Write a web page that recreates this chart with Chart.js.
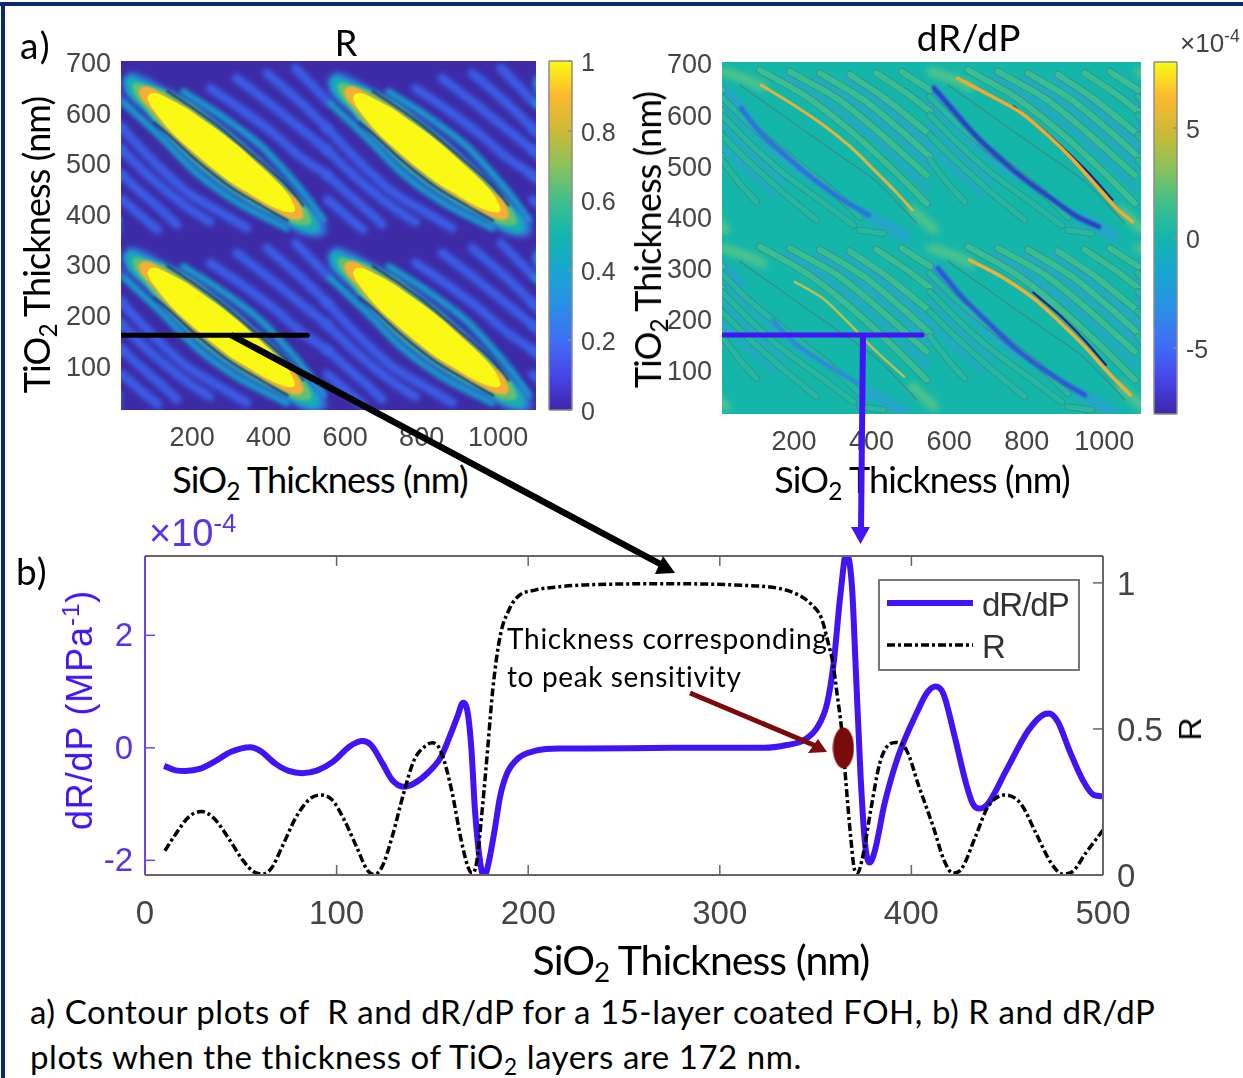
<!DOCTYPE html>
<html>
<head>
<meta charset="utf-8">
<title>R and dR/dP</title>
<script src="https://cdn.jsdelivr.net/npm/chart.js@4/dist/chart.umd.min.js"></script>
<style>
  html, body { margin: 0; padding: 0; background: #fff; }
  body { position: relative; width: 1243px; height: 1078px; overflow: hidden; }
  canvas.c { position: absolute; }
  .t { position: absolute; font-family: Lato, sans-serif; color: #000; white-space: nowrap; line-height: 1; }
  .mid { transform: translate(-50%, -50%); }
  .rot { transform: translate(-50%, -50%) rotate(-90deg); }
  .ar { font-family: "Liberation Sans", sans-serif; }
  sub { font-size: 68%; line-height: 0; vertical-align: -0.28em; }
  sup { font-size: 68%; line-height: 0; vertical-align: 0.55em; }
  .frame { position: absolute; background: #0b2a6b; }
  #legendBox { position: absolute; left: 878px; top: 579px; width: 198px; height: 88px; border: 2px solid #777; background: #fff; }
  svg { position: absolute; left: 0; top: 0; }
</style>
</head>
<body>
<div class="frame" style="left:0;top:2px;width:1243px;height:4px"></div>
<div class="frame" style="left:1px;top:2px;width:4px;height:1076px"></div>

<canvas class="c" id="mapR" style="left:40px;top:26px" width="520" height="429"></canvas>
<canvas class="c" id="barR" style="left:540px;top:36px" width="90" height="404"></canvas>
<canvas class="c" id="mapD" style="left:640px;top:27px" width="525" height="432"></canvas>
<canvas class="c" id="barD" style="left:1145px;top:37px" width="90" height="407"></canvas>
<div id="legendBox"></div>
<canvas class="c" id="lineChart" style="left:60px;top:516px" width="1120" height="424"></canvas>

<div class="t fit" data-w="32" style="left:20px;top:26px;font-size:37px">a)</div>
<div class="t mid" style="left:346px;top:42px;font-size:36px">R</div>
<div class="t mid fit" data-w="104" style="left:969px;top:36px;font-size:37px">dR/dP</div>
<div class="t ar" style="left:1180px;top:30px;font-size:26px;color:#444">×10<sup>-4</sup></div>
<div class="t rot fit" data-w="296" style="left:36px;top:245px;font-size:36px">TiO<sub>2</sub> Thickness (nm)</div>
<div class="t rot fit" data-w="296" style="left:647px;top:240px;font-size:36px">TiO<sub>2</sub> Thickness (nm)</div>
<div class="t mid fit" data-w="295" style="left:320px;top:479px;font-size:36px">SiO<sub>2</sub> Thickness (nm)</div>
<div class="t mid fit" data-w="295" style="left:922px;top:479px;font-size:36px">SiO<sub>2</sub> Thickness (nm)</div>

<div class="t fit" data-w="32" style="left:16px;top:552px;font-size:37px">b)</div>
<div class="t ar" style="left:149px;top:514px;font-size:38px;color:#5a33e8">×10<sup>-4</sup></div>
<div class="t ar rot fit" data-w="240" style="left:80px;top:710px;font-size:36px;color:#4312f5">dR/dP (MPa<sup>-1</sup>)</div>
<div class="t ar rot" style="left:1190px;top:729px;font-size:32px">R</div>
<div class="t ar fit" data-w="87" style="left:982px;top:588px;font-size:33px;color:#333">dR/dP</div>
<div class="t ar" style="left:982px;top:630px;font-size:33px;color:#333">R</div>
<div class="t fit" data-w="321" style="left:507px;top:624px;font-size:28px">Thickness corresponding</div>
<div class="t fit" data-w="235" style="left:507px;top:662px;font-size:28px">to peak sensitivity</div>
<div class="t mid fit" data-w="337" style="left:701px;top:959px;font-size:41px">SiO<sub>2</sub> Thickness (nm)</div>
<div class="t fit" data-w="1125" style="left:30px;top:995px;font-size:33px">a) Contour plots of&nbsp; R and dR/dP for a 15-layer coated FOH, b) R and dR/dP</div>
<div class="t fit" data-w="772" style="left:30px;top:1040px;font-size:33px">plots when the thickness of TiO<sub>2</sub> layers are 172 nm.</div>

<svg width="1243" height="1078">
  <line x1="887" y1="603" x2="973" y2="603" stroke="#4312f5" stroke-width="6"/>
  <line x1="887" y1="645" x2="973" y2="645" stroke="#000" stroke-width="3.5" stroke-dasharray="8 3 3 3"/>
  <line x1="231" y1="335" x2="664" y2="566" stroke="#000" stroke-width="6.5"/>
  <polygon points="675,573 655,574 663,556" fill="#000"/>
  <line x1="863" y1="335" x2="861" y2="530" stroke="#4312f5" stroke-width="6"/>
  <polygon points="851,527 870,527 860.5,544" fill="#4312f5"/>
  <line x1="690" y1="693" x2="816" y2="746" stroke="#7b0a0a" stroke-width="5"/>
  <polygon points="827,752 808,753 818,739" fill="#7b0a0a"/>
</svg>

<script>
// axis ranges
const mapRangeR = { xMin: 14, xMax: 1099, yMin: 13, yMax: 704 };
const mapRangeD = { xMin: 14, xMax: 1095, yMin: 14, yMax: 704 };
const mapXTicks = [200, 400, 600, 800, 1000];
const mapYTicks = [100, 200, 300, 400, 500, 600, 700];
const barRTicks = [0, 0.2, 0.4, 0.6, 0.8, 1];
const barDTicks = [-5, 0, 5];
const lineXTicks = [0, 100, 200, 300, 400, 500];
const lineYTicks = [-2, 0, 2];
const lineRTicks = [0, 0.5, 1];

const parulaStops = [0, 0.1, 0.2, 0.3, 0.4, 0.5, 0.6, 0.7, 0.8, 0.9, 1];
const parulaColors = ['#3e26a8', '#4746eb', '#3e6ff5', '#2a8fe6', '#17a6cf', '#12b5ae', '#3fc08a', '#8cc25a', '#cdba38', '#fcb92e', '#f9fb15'];

// repeat of the lobe pattern across both maps (nm)
const tileX = [-537, 0, 537, 1074];
const tileY = [0, -346];

// R map: contours of one lobe, [SiO2, TiO2] in nm
const lobeHalo = [[16,666],[38,681],[77,672],[142,645],[203,619],[260,586],[312,555],[360,523],[412,487],[460,450],[500,418],[530,399],[552,369],[534,356],[482,363],[421,393],[364,415],[303,443],[255,469],[212,495],[164,530],[120,565],[81,601],[45,625],[24,640]];
const lobeTeal = [[24,663],[38,673],[68,664],[142,642],[203,616],[260,583],[312,552],[360,520],[412,484],[460,447],[495,418],[521,396],[532,376],[521,363],[482,370],[421,396],[364,418],[303,446],[255,472],[212,498],[164,533],[120,568],[81,604],[50,625],[33,640]];
const lobeGreen = [[42,653],[51,661],[81,656],[142,640],[203,614],[260,581],[312,550],[360,518],[412,482],[460,445],[495,416],[513,386],[504,379],[469,381],[421,399],[364,421],[303,449],[255,475],[212,501],[164,536],[120,571],[81,607],[51,635]];
const lobeOrange = [[59,643],[68,652],[90,652],[142,630],[194,608],[247,578],[299,549],[351,516],[404,480],[447,447],[478,425],[491,399],[482,390],[456,392],[412,409],[360,432],[308,457],[264,482],[221,508],[177,537],[133,570],[94,606],[68,627]];
const lobeYellow = [[83,630],[90,639],[107,640],[142,628],[186,610],[229,587],[273,564],[316,538],[360,508],[404,478],[438,452],[460,429],[469,409],[460,404],[430,409],[386,425],[343,445],[299,465],[255,491],[212,518],[177,541],[142,567],[112,594],[90,617]];
const flankUpper = [[135,644],[186,619],[273,572],[360,516],[447,458],[490,418]];
const flankLower = [[100,582],[142,556],[212,507],[299,455],[386,416],[450,388]];
const stripesTeal = [
  [[177,643],[273,597],[377,538],[447,482],[499,435],[543,389]],
  [[24,620],[125,548],[212,482],[316,425],[447,373]]
];
const stripesBlue = [
  [[247,650],[325,610],[412,561],[482,515],[553,478]],
  [[316,670],[412,614],[482,571],[553,528]],
  [[395,680],[482,623],[553,571]],
  [[470,690],[553,625]],
  [[16,571],[99,505],[186,445],[273,405],[343,373]],
  [[16,528],[99,468],[186,415],[247,385]],
  [[16,478],[72,440],[125,405],[160,380]],
  [[16,430],[70,395],[110,370]]
];
const scanLineR = [[19,161],[501,161]];

// dR/dP map: arcs of each lobe
const arcOrange = [
  { pts: [[115,659],[192,623],[274,581],[345,538],[407,492],[458,453],[505,414]], color: '#e0b33c', w: 3 },
  { pts: [[622,672],[704,639],[786,604],[858,558],[920,512],[981,460],[1032,417],[1073,391]], color: '#f4a92e', w: 3.5 },
  { pts: [[202,273],[274,241],[345,189],[407,140],[484,87]], color: '#b9c04e', w: 2.5 },
  { pts: [[653,316],[735,283],[817,241],[889,192],[950,146],[1012,94],[1068,51]], color: '#eeb034', w: 3.5 }
];
const arcBlue = [
  { pts: [[64,613],[110,568],[181,519],[253,473],[325,434],[392,404]], color: '#2f6fe0', w: 5 },
  { pts: [[561,653],[602,617],[663,564],[725,519],[797,473],[868,434],[930,401],[986,381]], color: '#2c3fc4', w: 5 },
  { pts: [[146,198],[202,153],[279,113],[366,74]], color: '#2f86df', w: 4 },
  { pts: [[571,300],[632,244],[694,198],[766,146],[838,104],[899,74],[950,51]], color: '#2f55d8', w: 5 }
];
const arcDark = [
  [[766,617],[838,574],[899,532],[961,486],[1022,434]],
  [[817,252],[889,205],[950,158],[1005,110]]
];
const tipGreen = [
  [[17,685],[69,672],[120,655]],
  [[505,414],[561,375]]
];
const tipBlue = [
  [[12,650],[63,613]],
  [[392,404],[489,362]]
];
const bandsBlue = [
  [[181,675],[301,616],[413,551],[542,456]],
  [[258,670],[370,616],[465,561],[551,499]],
  [[336,672],[430,620],[551,538]],
  [[13,623],[86,571],[164,518],[241,472]],
  [[13,580],[86,528],[172,469]],
  [[13,538],[86,486],[146,446]]
];
const loopsUpper = [
  [[112,688],[232,636],[353,564],[456,492],[542,427]],
  [[189,685],[310,633],[422,564],[542,482]],
  [[267,682],[379,630],[473,571],[551,518]],
  [[344,679],[439,630],[551,561]],
  [[413,682],[490,643],[551,607]],
  [[478,685],[551,649]]
];
const loopsLower = [
  [[13,636],[78,587],[155,538],[232,492],[301,450],[370,400]],
  [[13,600],[86,544],[172,486],[267,433],[353,384]],
  [[13,561],[78,512],[164,453],[258,394]],
  [[13,512],[60,466],[103,430]],
  [[370,374],[430,368]]
];
const thinMiddle = [[60,659],[181,594],[310,525],[413,469],[516,388]];
const scanLineD = [[15,169],[530,169]];

// line plot at TiO2 = 172 nm
const dRdPx = [10,16,21,29,36,45,55,60,68,75,82,90,98,107,113.5,118,124,129,135,140.5,148,154.5,159,163,166,168.5,170.4,172.2,175,177,179.3,182.5,185.3,189,194.6,204,216,230,276,323,335,344,351,356,359.4,363,366,369,371,373.5,375.8,378.2,381,386,393,402.6,408.4,412.6,416.7,422.6,428.5,432,435.4,440,449.5,461,469.5,471.8,476.5,482.4,489.4,495.3,500];
const dRdPy = [-0.32,-0.40,-0.41,-0.37,-0.25,-0.07,0.01,-0.05,-0.28,-0.41,-0.45,-0.40,-0.25,0.03,0.12,0.05,-0.28,-0.57,-0.69,-0.63,-0.43,-0.16,0.2,0.55,0.80,0.61,-0.04,-1.1,-2.05,-2.3,-2.05,-1.46,-0.87,-0.45,-0.19,-0.05,-0.01,-0.01,0,0,0.05,0.14,0.37,0.79,1.5,2.74,3.45,2.86,1.38,-0.51,-1.7,-2.04,-1.82,-0.99,-0.16,0.61,0.99,1.09,0.96,0.2,-0.63,-0.99,-1.08,-0.99,-0.40,0.31,0.60,0.61,0.46,-0.04,-0.57,-0.84,-0.86];
const reflX = [10.4,15.7,23,29.6,36,43.6,51,56.7,61.3,66,71.6,79,86.5,92,97.7,104,110.7,116,119.7,123.8,129,135,140.5,146,150,154.5,160,165,168.5,170.7,173,176,178.8,181.5,185.3,190,194.6,204,216.6,229.6,276,311,330,341,348,353,356.6,359,361.4,363.6,366,368.3,370,371.8,374.6,378.8,383.5,388,392,397.4,404,411.4,417,421.7,426.4,433.4,440,448.6,457,465,473,479,484,491,500];
const reflY = [0.083,0.137,0.20,0.217,0.194,0.126,0.051,0.011,0.003,0.023,0.097,0.2,0.263,0.274,0.257,0.188,0.092,0.017,0.002,0.029,0.131,0.28,0.394,0.44,0.453,0.422,0.291,0.12,0.029,0.006,0.04,0.223,0.428,0.634,0.816,0.908,0.953,0.976,0.987,0.993,0.997,0.992,0.982,0.959,0.925,0.88,0.794,0.726,0.61,0.497,0.303,0.131,0.028,0.006,0.063,0.223,0.383,0.445,0.454,0.428,0.302,0.165,0.051,0.006,0.023,0.131,0.234,0.274,0.245,0.143,0.04,0.003,0.011,0.075,0.154];
const peakX = [364.5];
const peakY = [0];

const tickFont = 'Liberation Sans';

function toXY(list, dx, dy) {
  return list.map(p => ({ x: p[0] + (dx || 0), y: p[1] + (dy || 0) }));
}

function addShape(sets, list, color, dx, dy, blur) {
  sets.push({ data: toXY(list, dx, dy), showLine: true, fill: 'shape', backgroundColor: color, borderWidth: 0, borderColor: color,
    pointRadius: 0, tension: 0.3, clip: 0, order: -sets.length, blur });
}

function addLine(sets, list, color, width, dx, dy, blur) {
  sets.push({ data: toXY(list, dx, dy), showLine: true, fill: false, borderColor: color, borderWidth: width, borderCapStyle: 'round',
    pointRadius: 0, tension: 0.3, clip: 0, order: -sets.length, blur });
}

function eachTile(fn) {
  tileY.forEach(dy => tileX.forEach(dx => fn(dx, dy)));
}

function fixedTicks(vals) {
  return axis => { axis.ticks = vals.map(value => ({ value })); };
}

// fixed axis width, labels pushed down a little like the figure's
function fitY(width, nudge) {
  return s => {
    s.width = width;
    if (s.nudged) return;
    s.nudged = true;
    const drawLabels = s.drawLabels;
    s.drawLabels = area => {
      s.ctx.save();
      s.ctx.translate(0, nudge);
      drawLabels.call(s, area);
      s.ctx.restore();
    };
  };
}

const plainLabel = v => String(v);

// plot background, soft contour edges, inward ticks with box
const plotDeco = {
  id: 'plotDeco',
  beforeDatasetsDraw(chart, args, opts) {
    if (!opts.bg) return;
    const a = chart.chartArea;
    chart.ctx.fillStyle = opts.bg;
    chart.ctx.fillRect(a.left, a.top, a.width, a.height);
  },
  beforeDatasetDraw(chart, args) {
    const b = chart.data.datasets[args.index].blur;
    if (!b) return;
    chart.ctx.save();
    chart.ctx.filter = 'blur(' + b + 'px)';
  },
  afterDatasetDraw(chart, args) {
    if (chart.data.datasets[args.index].blur) chart.ctx.restore();
  },
  afterDraw(chart, args, opts) {
    if (!opts.len) return;
    const ctx = chart.ctx;
    const a = chart.chartArea;
    const seg = (x1, y1, x2, y2, c, w) => {
      ctx.beginPath();
      ctx.moveTo(x1, y1);
      ctx.lineTo(x2, y2);
      ctx.strokeStyle = c;
      ctx.lineWidth = w;
      ctx.stroke();
    };
    ctx.save();
    Object.values(chart.scales).forEach(s => {
      if (s.options.display === false || s.type !== 'linear') return;
      s.ticks.forEach(t => {
        const p = s.getPixelForValue(t.value);
        if (s.isHorizontal()) {
          if (opts.xTicks === false) return;
          seg(p, a.bottom, p, a.bottom - opts.len, opts.color, 1.5);
          seg(p, a.top, p, a.top + opts.len, opts.color, 1.5);
        } else if (s.position === 'left') {
          seg(a.left, p, a.left + opts.len, p, opts.leftColor, 1.5);
        } else {
          seg(a.right, p, a.right - opts.len, p, opts.color, 1.5);
        }
      });
    });
    seg(a.left, a.top, a.right, a.top, opts.color, opts.w);
    seg(a.left, a.bottom, a.right, a.bottom, opts.color, opts.w);
    seg(a.right, a.top, a.right, a.bottom, opts.color, opts.w);
    seg(a.left, a.top, a.left, a.bottom, opts.leftColor, opts.w);
    ctx.restore();
  }
};
// filler has to run after plotDeco so the blur reaches the fills
const fillerPlugin = Chart.registry.getPlugin('filler');
Chart.unregister(fillerPlugin);
Chart.register(plotDeco);
Chart.register(fillerPlugin);

function baseOptions() {
  return { responsive: false, animation: false, events: [], plugins: { legend: { display: false }, tooltip: { enabled: false } } };
}

function mapChart(id, range, sets, bg, right, fontSize) {
  const opts = baseOptions();
  opts.plugins.plotDeco = { bg };
  opts.layout = { padding: { top: 35, right } };
  opts.scales = {
    x: { type: 'linear', min: range.xMin, max: range.xMax, grid: { display: false, drawTicks: false }, border: { display: false },
      afterBuildTicks: fixedTicks(mapXTicks), afterFit: s => { s.height = 45; },
      ticks: { autoSkip: false, maxRotation: 0, color: '#444', padding: 12, font: { family: tickFont, size: fontSize }, callback: plainLabel } },
    y: { type: 'linear', min: range.yMin, max: range.yMax, grid: { display: false, drawTicks: false }, border: { display: false },
      afterBuildTicks: fixedTicks(mapYTicks), afterFit: fitY(id === 'mapR' ? 81 : 82, 2),
      ticks: { autoSkip: false, color: '#444', padding: 10, font: { family: tickFont, size: fontSize }, callback: plainLabel } }
  };
  return new Chart(document.getElementById(id), { type: 'scatter', data: { datasets: sets }, options: opts });
}

function colorBar(id, min, max, ticks, axisWidth) {
  const fillBar = c => {
    const a = c.chart.chartArea;
    if (!a) return parulaColors[5];
    const g = c.chart.ctx.createLinearGradient(0, a.bottom, 0, a.top);
    parulaStops.forEach((s, i) => g.addColorStop(s, parulaColors[i]));
    return g;
  };
  const opts = baseOptions();
  opts.indexAxis = 'y';
  opts.plugins.plotDeco = { len: 4, color: '#8c8c8c', leftColor: '#8c8c8c', w: 1.5, xTicks: false };
  opts.layout = { padding: { left: 9, top: 25, bottom: 30 } };
  opts.scales = {
    x: { display: false, min: 0, max: 1 },
    y: { display: false, grid: { display: false } },
    v: { type: 'linear', position: 'right', offset: false, min, max, grid: { display: false, drawTicks: false }, border: { display: false },
      afterBuildTicks: fixedTicks(ticks), afterFit: fitY(axisWidth, 3),
      ticks: { autoSkip: false, color: '#444', padding: 9, font: { family: tickFont, size: 25 }, callback: plainLabel } }
  };
  return new Chart(document.getElementById(id), {
    type: 'bar',
    data: { labels: [''], datasets: [{ data: [1], backgroundColor: fillBar, barPercentage: 1, categoryPercentage: 1 }] },
    options: opts
  });
}

// R map
const setsR = [];
eachTile((dx, dy) => {
  stripesBlue.forEach(s => addLine(setsR, s, '#3a5ee6', 9, dx, dy, 2.5));
  stripesTeal.forEach(s => addLine(setsR, s, '#189ccb', 7, dx, dy, 2));
});
eachTile((dx, dy) => {
  addShape(setsR, lobeHalo, '#2f80e0', dx, dy, 3);
  addShape(setsR, lobeTeal, '#14aeb4', dx, dy, 2);
  addShape(setsR, lobeGreen, '#63c070', dx, dy, 1.5);
  addLine(setsR, flankUpper, '#26307e', 2.5, dx, dy, 1);
  addLine(setsR, flankLower, '#26307e', 2.5, dx, dy, 1);
  addShape(setsR, lobeOrange, '#f6ae35', dx, dy, 0.8);
  addShape(setsR, lobeYellow, '#f9f915', dx, dy, 0.6);
});
addLine(setsR, scanLineR, '#000', 5);
mapChart('mapR', mapRangeR, setsR, '#3d2ba6', 24, 27);
colorBar('barR', 0, 1, barRTicks, 58);

// dR/dP map
const setsD = [];
eachTile((dx, dy) => {
  bandsBlue.forEach(s => addLine(setsD, s, '#25a8c2', 6, dx, dy, 1.5));
  tipBlue.forEach(s => addLine(setsD, s, '#2aa0d0', 9, dx, dy, 3));
  tipGreen.forEach(s => addLine(setsD, s, '#55c488', 9, dx, dy, 3));
});
eachTile((dx, dy) => {
  loopsUpper.forEach(s => {
    addLine(setsD, s, '#3d8a80', 7.5, dx, dy);
    addLine(setsD, s, '#38be94', 6, dx, dy);
  });
  loopsLower.forEach(s => {
    addLine(setsD, s, '#3d8a80', 7, dx, dy);
    addLine(setsD, s, '#22b8a2', 5.5, dx, dy);
  });
  addLine(setsD, thinMiddle, '#3d8a80', 1.2, dx, dy);
});
arcBlue.forEach(a => addLine(setsD, a.pts, a.color, a.w, 0, 0, 0.8));
arcDark.forEach(s => addLine(setsD, s, '#241f70', 2, 0, 0, 0.4));
arcOrange.forEach(a => addLine(setsD, a.pts, a.color, a.w, 0, 0, 0.4));
addLine(setsD, scanLineD, '#4312f5', 5);
mapChart('mapD', mapRangeD, setsD, '#14b6aa', 24, 27);
colorBar('barD', -8, 8, barDTicks, 58);

// line plot
const marker = document.createElement('canvas');
marker.width = 22;
marker.height = 42;
const mctx = marker.getContext('2d');
mctx.fillStyle = '#7b0a0a';
mctx.beginPath();
mctx.ellipse(11, 21, 10.5, 20.5, 0, 0, Math.PI * 2);
mctx.fill();

const lineOpts = baseOptions();
lineOpts.layout = { padding: { top: 40 } };
lineOpts.plugins.plotDeco = { len: 10, color: '#666', leftColor: '#6a45ea', w: 2 };
lineOpts.scales = {
  x: { type: 'linear', min: 0, max: 500, grid: { display: false, drawTicks: false }, border: { display: false },
    afterBuildTicks: fixedTicks(lineXTicks), afterFit: s => { s.height = 65; },
    ticks: { autoSkip: false, maxRotation: 0, color: '#444', padding: 20, font: { family: tickFont, size: 33 }, callback: plainLabel } },
  y: { type: 'linear', position: 'left', min: -2.26, max: 3.41, grid: { display: false, drawTicks: false }, border: { display: false },
    afterBuildTicks: fixedTicks(lineYTicks), afterFit: fitY(85, 2),
    ticks: { autoSkip: false, color: '#5a33e8', padding: 12, font: { family: tickFont, size: 33 }, callback: plainLabel } },
  yR: { type: 'linear', position: 'right', min: 0, max: 1.092, grid: { display: false, drawTicks: false }, border: { display: false },
    afterBuildTicks: fixedTicks(lineRTicks), afterFit: fitY(77, 3),
    ticks: { autoSkip: false, color: '#444', padding: 14, font: { family: tickFont, size: 33 }, callback: plainLabel } }
};
new Chart(document.getElementById('lineChart'), {
  type: 'scatter',
  data: {
    datasets: [
      { label: 'peak', data: peakX.map((x, i) => ({ x, y: peakY[i] })), yAxisID: 'y', pointStyle: marker, pointRadius: 10, order: 0 },
      { label: 'R', data: reflX.map((x, i) => ({ x, y: reflY[i] })), yAxisID: 'yR', showLine: true, borderColor: '#000', borderWidth: 3.5,
        borderDash: [8, 3, 3, 3], pointRadius: 0, cubicInterpolationMode: 'monotone', order: 1 },
      { label: 'dR/dP', data: dRdPx.map((x, i) => ({ x, y: dRdPy[i] })), yAxisID: 'y', showLine: true, borderColor: '#4312f5', borderWidth: 6,
        pointRadius: 0, cubicInterpolationMode: 'monotone', order: 2 }
    ]
  },
  options: lineOpts
});

// squeeze or stretch text to the widths seen in the figure
document.querySelectorAll('.fit').forEach(el => {
  const target = parseFloat(el.dataset.w);
  const extra = (target - el.offsetWidth) / el.textContent.length;
  el.style.letterSpacing = extra.toFixed(3) + 'px';
});
</script>
</body>
</html>
